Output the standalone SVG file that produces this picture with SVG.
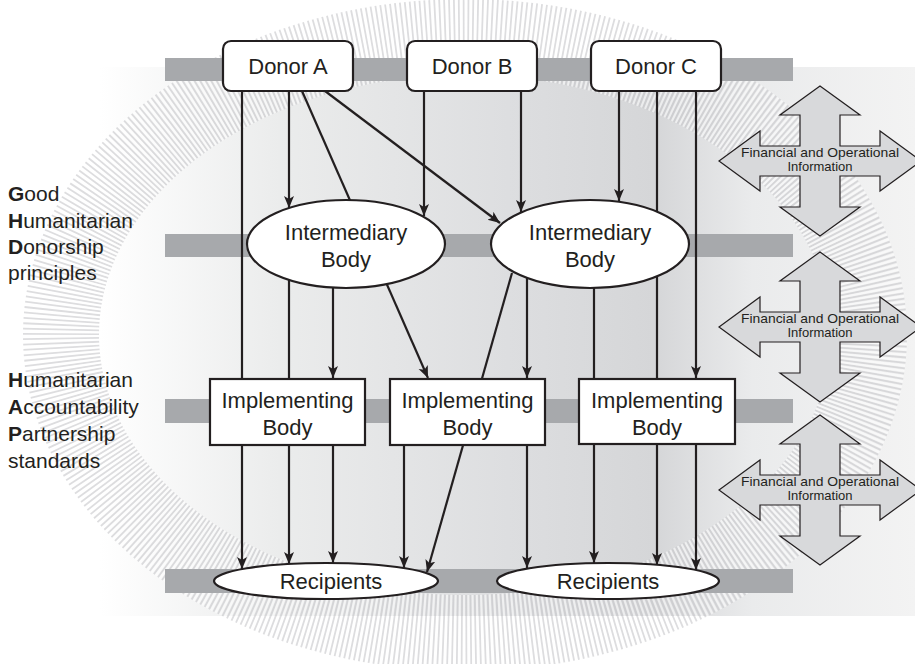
<svg xmlns="http://www.w3.org/2000/svg" width="915" height="664" viewBox="0 0 915 664">
  <style>
    .node { fill: #ffffff; stroke: #231f20; stroke-width: 2.2; }
    .lbl { font-family: "Liberation Sans", Arial, sans-serif; font-size: 22px; fill: #231f20; text-anchor: middle; }
    .side { font-family: "Liberation Sans", Arial, sans-serif; font-size: 21px; fill: #231f20; }
    .side tspan.b { font-weight: bold; }
    .info { font-family: "Liberation Sans", Arial, sans-serif; font-size: 13px; fill: #231f20; text-anchor: middle; }
    .quad { fill: #d8d9db; stroke: #231f20; stroke-width: 1.2; }
    .bar { fill: #a7a9ac; }
    .conn line { stroke: #231f20; stroke-width: 2.2; fill: none; }
    .conn line.a { marker-end: url(#arr); }
  </style>
  <defs>
    <linearGradient id="bg" x1="100" y1="0" x2="915" y2="0" gradientUnits="userSpaceOnUse">
      <stop offset="0" stop-color="#ffffff"/>
      <stop offset="0.22" stop-color="#ebecec"/>
      <stop offset="0.5" stop-color="#dddee0"/>
      <stop offset="0.68" stop-color="#d5d6d8"/>
      <stop offset="0.8" stop-color="#eaebec"/>
      <stop offset="1" stop-color="#f3f3f3"/>
    </linearGradient>
    <marker id="arr" markerUnits="userSpaceOnUse" markerWidth="13" markerHeight="11" refX="12" refY="5" orient="auto">
      <path d="M0,0 L12,5 L0,10 L3,5 z" fill="#231f20"/>
    </marker>
    <path id="quadShape" d="M0,-75 L40,-46 L20,-46 L20,-15 L60,-15 L60,-30 L101,0 L60,30 L60,15 L20,15 L20,46 L40,46 L0,75 L-40,46 L-20,46 L-20,15 L-60,15 L-60,30 L-101,0 L-60,-30 L-60,-15 L-20,-15 L-20,-46 L-40,-46 Z"/>
  </defs>

  <!-- background -->
  <rect x="0" y="0" width="915" height="664" fill="#ffffff"/>
  <rect x="100" y="67" width="815" height="549" fill="url(#bg)"/>
  <g id="ring" fill="none">
    <ellipse cx="465" cy="335" rx="404" ry="298" stroke="#c6c7c9" stroke-width="76" stroke-dasharray="1.8 2.8" opacity="0.6"/>
    <ellipse cx="465" cy="335" rx="404" ry="298" stroke="#ffffff" stroke-width="76" stroke-dasharray="2 2.6" stroke-dashoffset="2.3" opacity="0.55"/>
  </g>

  <!-- horizontal bands -->
  <g id="bands">
    <rect class="bar" x="165" y="58" width="628" height="23"/>
    <rect class="bar" x="165" y="234" width="628" height="23"/>
    <rect class="bar" x="165" y="399" width="628" height="24"/>
    <rect class="bar" x="165" y="569" width="628" height="24"/>
  </g>

  <!-- left texts -->
  <g id="ghd">
    <text class="side" x="8" y="201"><tspan class="b">G</tspan>ood</text>
    <text class="side" x="8" y="228"><tspan class="b">H</tspan>umanitarian</text>
    <text class="side" x="8" y="254"><tspan class="b">D</tspan>onorship</text>
    <text class="side" x="8" y="280">principles</text>
  </g>
  <g id="hap">
    <text class="side" x="8" y="387"><tspan class="b">H</tspan>umanitarian</text>
    <text class="side" x="8" y="414"><tspan class="b">A</tspan>ccountability</text>
    <text class="side" x="8" y="441"><tspan class="b">P</tspan>artnership</text>
    <text class="side" x="8" y="468">standards</text>
  </g>

  <!-- connectors -->
  <g id="connectors" class="conn">
    <line class="a" x1="242" y1="91" x2="242" y2="569"/>
    <line class="a" x1="289" y1="91" x2="289" y2="208"/>
    <line class="a" x1="302" y1="91" x2="428" y2="378"/>
    <line class="a" x1="325" y1="91" x2="500" y2="223"/>
    <line class="a" x1="424" y1="91" x2="424" y2="216"/>
    <line class="a" x1="521" y1="91" x2="521" y2="212"/>
    <line class="a" x1="619" y1="91" x2="619" y2="201"/>
    <line class="a" x1="657" y1="91" x2="657" y2="565"/>
    <line class="a" x1="696" y1="91" x2="696" y2="378"/>
    <line class="a" x1="289" y1="244" x2="289" y2="564"/>
    <line class="a" x1="333" y1="244" x2="333" y2="378"/>
    <line class="a" x1="333" y1="445" x2="333" y2="563"/>
    <line class="a" x1="527" y1="260" x2="527" y2="378"/>
    <line class="a" x1="512" y1="273" x2="427" y2="572"/>
    <line class="a" x1="594" y1="244" x2="594" y2="563"/>
    <line class="a" x1="404" y1="445" x2="404" y2="568"/>
    <line class="a" x1="527" y1="445" x2="527" y2="568"/>
    <line class="a" x1="696" y1="444" x2="696" y2="570"/>
  </g>

  <!-- donors -->
  <g id="donorA">
    <rect class="node" x="223" y="41" width="130" height="50" rx="8"/>
    <text class="lbl" x="288" y="74">Donor A</text>
  </g>
  <g id="donorB">
    <rect class="node" x="407" y="41" width="130" height="50" rx="8"/>
    <text class="lbl" x="472" y="74">Donor B</text>
  </g>
  <g id="donorC">
    <rect class="node" x="591" y="41" width="130" height="50" rx="8"/>
    <text class="lbl" x="656" y="74">Donor C</text>
  </g>

  <!-- intermediaries -->
  <g id="intermediary1">
    <ellipse class="node" cx="346" cy="244" rx="99" ry="44"/>
    <text class="lbl" x="346" y="240">Intermediary</text>
    <text class="lbl" x="346" y="267">Body</text>
  </g>
  <g id="intermediary2">
    <ellipse class="node" cx="590" cy="244" rx="99" ry="44"/>
    <text class="lbl" x="590" y="240">Intermediary</text>
    <text class="lbl" x="590" y="267">Body</text>
  </g>

  <!-- implementing bodies -->
  <g id="implementing1">
    <rect class="node" x="210" y="379" width="155" height="66"/>
    <text class="lbl" x="287.5" y="408">Implementing</text>
    <text class="lbl" x="287.5" y="435">Body</text>
  </g>
  <g id="implementing2">
    <rect class="node" x="390" y="379" width="155" height="66"/>
    <text class="lbl" x="467.5" y="408">Implementing</text>
    <text class="lbl" x="467.5" y="435">Body</text>
  </g>
  <g id="implementing3">
    <rect class="node" x="579" y="379" width="156" height="65"/>
    <text class="lbl" x="657" y="408">Implementing</text>
    <text class="lbl" x="657" y="435">Body</text>
  </g>

  <!-- recipients -->
  <g id="recipients1">
    <ellipse class="node" cx="326" cy="581" rx="112" ry="18"/>
    <text class="lbl" x="331" y="589">Recipients</text>
  </g>
  <g id="recipients2">
    <ellipse class="node" cx="608" cy="581" rx="111" ry="18"/>
    <text class="lbl" x="608" y="589">Recipients</text>
  </g>

  <!-- information arrows -->
  <g id="info1">
    <use href="#quadShape" class="quad" transform="translate(820,161)"/>
    <text class="info" x="820" y="157" textLength="158" lengthAdjust="spacingAndGlyphs">Financial and Operational</text>
    <text class="info" x="820" y="171">Information</text>
  </g>
  <g id="info2">
    <use href="#quadShape" class="quad" transform="translate(820,327)"/>
    <text class="info" x="820" y="323" textLength="158" lengthAdjust="spacingAndGlyphs">Financial and Operational</text>
    <text class="info" x="820" y="337">Information</text>
  </g>
  <g id="info3">
    <use href="#quadShape" class="quad" transform="translate(820,490)"/>
    <text class="info" x="820" y="486" textLength="158" lengthAdjust="spacingAndGlyphs">Financial and Operational</text>
    <text class="info" x="820" y="500">Information</text>
  </g>
</svg>
